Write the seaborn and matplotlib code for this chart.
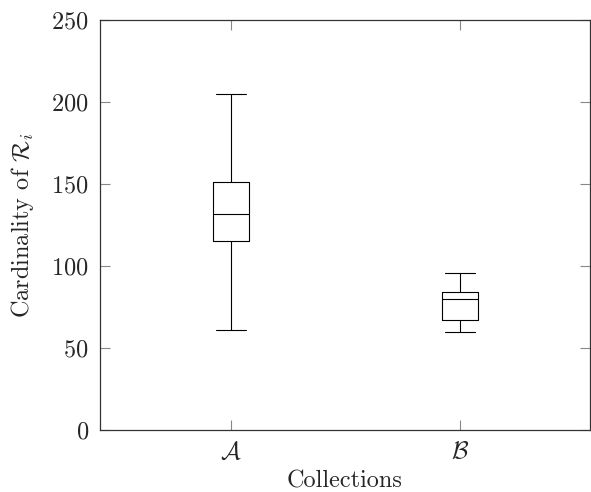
import numpy as np
import pandas as pd
import matplotlib
matplotlib.use("Agg")
import matplotlib.pyplot as plt
import seaborn as sns

# five-number summaries (min, Q1, median, Q3, max)
collections = [r"$\mathcal{A}$", r"$\mathcal{B}$"]
stats_a = [61, 115, 132, 151, 205]
stats_b = [60, 67, 80, 84, 96]
y_ticks = [0, 50, 100, 150, 200, 250]

sns.set_style("ticks")
plt.rcParams["font.family"] = "serif"
plt.rcParams["font.serif"] = ["cmr10", "DejaVu Serif"]
plt.rcParams["mathtext.fontset"] = "cm"
plt.rcParams["axes.formatter.use_mathtext"] = True

df = pd.DataFrame({
    "collection": [collections[0]] * len(stats_a) + [collections[1]] * len(stats_b),
    "value": stats_a + stats_b,
})

fig = plt.figure(figsize=(5.91, 4.92), dpi=100)
ax = fig.add_axes([0.1692, 0.126, 0.8291, 0.8333])

sns.boxplot(data=df, x="collection", y="value", ax=ax, fill=False,
            color="black", width=0.16, whis=np.inf, linewidth=0.8,
            capwidths=0.128, showfliers=False)

ax.set_xlim(-0.572, 1.568)
ax.set_ylim(0, 250)
ax.set_yticks(y_ticks)
ax.set_xticks([0, 1])
ax.set_xticklabels(collections)
ax.set_xlabel("Collections", fontsize=17.5, labelpad=5)
ax.set_ylabel(r"Cardinality of $\mathcal{R}_i$", fontsize=17.5, labelpad=11)

for s in ax.spines.values():
    s.set_visible(True)
    s.set_color("#333333")
    s.set_linewidth(0.9)
ax.tick_params(direction="in", length=7, width=0.8, color="#888888",
               labelsize=17.5, top=True, right=True, pad=8)

fig.savefig("out.png", dpi=100)
